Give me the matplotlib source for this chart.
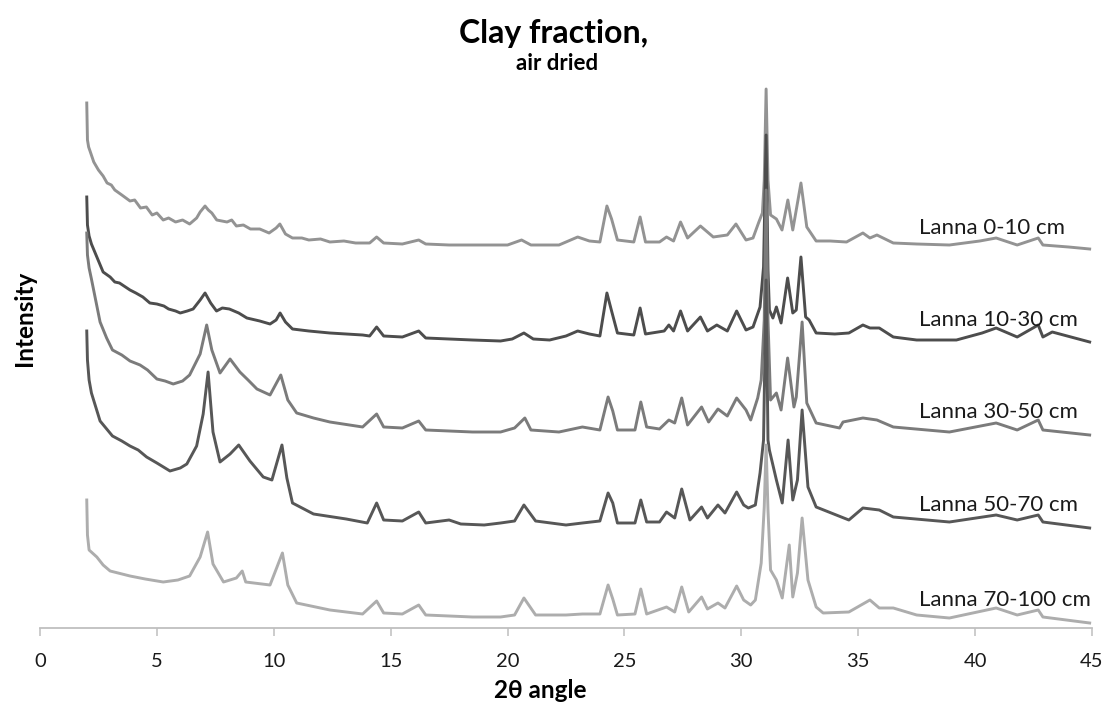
import matplotlib
matplotlib.use("Agg")
import matplotlib.pyplot as plt

plt.rcParams['font.family'] = ['Lato', 'DejaVu Sans']

# XRD patterns (2-theta, stacked intensity)
x_0_10 = [2.0, 2.03, 2.08, 2.14, 2.3, 2.5, 2.7, 2.87, 3.05, 3.2, 3.5, 3.85, 4.05, 4.3, 4.55, 4.8, 5.0, 5.27, 5.5,
          5.8, 6.1, 6.4, 6.7, 6.85, 7.06, 7.2, 7.35, 7.56, 8.0, 8.2, 8.4, 8.7, 9.0, 9.4, 9.8, 10.1, 10.26,
          10.5, 10.8, 11.2, 11.5, 12.0, 12.4, 13.0, 13.5, 14.1, 14.4, 14.7, 15.5, 16.2, 16.5, 17.5, 18.5,
          19.5, 20.0, 20.6, 21.0, 22.2, 23.0, 23.5, 23.95, 24.25, 24.45, 24.7, 25.4, 25.67, 25.9, 26.5,
          26.8, 27.1, 27.4, 27.7, 28.25, 28.8, 29.4, 29.77, 30.2, 30.5, 30.75, 30.9, 30.98, 31.06, 31.14,
          31.25, 31.5, 31.74, 31.99, 32.2, 32.55, 32.8, 33.2, 33.8, 34.5, 35.2, 35.5, 35.8, 36.5, 37.5,
          38.9, 40.2, 40.9, 41.8, 42.7, 42.9, 44.0, 44.9]
y_0_10 = [525, 488, 481, 477, 466, 458, 452, 445, 443, 438, 433, 427, 428, 420, 421, 413, 415, 408, 410,
          406, 408, 404, 410, 416, 422, 418, 415, 408, 406, 408, 402, 403, 399, 399, 395, 400, 404,
          394, 390, 390, 388, 389, 386, 387, 385, 385, 391, 385, 384, 388, 384, 383, 383,
          383, 383, 388, 383, 383, 391, 387, 386, 422, 409, 388, 386, 411, 386, 386,
          391, 387, 406, 390, 402, 391, 393, 404, 388, 390, 406, 415, 448, 539, 448,
          413, 409, 398, 428, 398, 445, 401, 387, 387, 386, 395, 390, 393, 385, 384,
          383, 387, 390, 383, 390, 383, 381, 379]

x_10_30 = [2.0, 2.03, 2.1, 2.2, 2.45, 2.7, 3.0, 3.2, 3.4, 3.85, 4.1, 4.4, 4.7, 5.0, 5.3, 5.5, 5.8, 6.0, 6.3,
           6.55, 6.85, 7.06, 7.3, 7.55, 7.8, 8.1, 8.5, 8.85, 9.4, 9.84, 10.1, 10.27, 10.5, 10.8, 11.5,
           12.4, 13.1, 13.8, 14.1, 14.4, 14.7, 15.5, 16.2, 16.5, 17.5, 18.5, 19.7, 20.2, 20.7, 21.1,
           21.8, 22.5, 23.0, 23.5, 23.95, 24.25, 24.45, 24.7, 25.4, 25.67, 25.9, 26.7, 26.9, 27.1, 27.4,
           27.7, 28.25, 28.55, 28.95, 29.4, 29.8, 30.2, 30.5, 30.8, 30.95, 31.06, 31.14, 31.2, 31.35,
           31.5, 31.7, 31.98, 32.2, 32.35, 32.55, 32.75, 32.9, 33.2, 34.0, 34.6, 35.2, 35.5, 35.9, 36.5,
           37.5, 39.2, 40.3, 40.9, 41.8, 42.7, 42.9, 43.3, 44.9]
y_10_30 = [431, 403, 392, 384, 370, 356, 351, 346, 345, 338, 335, 331, 325, 324, 322, 319, 317, 315, 317,
           319, 328, 335, 325, 317, 320, 319, 315, 310, 307, 304, 308, 315, 306, 299, 297,
           295, 294, 293, 292, 301, 292, 291, 297, 290, 289, 288, 287, 289, 295, 289,
           288, 292, 297, 294, 292, 335, 317, 295, 293, 320, 294, 297, 303, 297, 317,
           297, 311, 297, 303, 297, 317, 298, 301, 321, 361, 493, 358, 318, 310,
           321, 305, 350, 315, 318, 371, 311, 308, 295, 294, 295, 303, 300, 300, 291,
           288, 288, 295, 300, 291, 303, 291, 296, 286]

x_30_50 = [2.0, 2.03, 2.1, 2.2, 2.57, 2.85, 3.1, 3.5, 3.85, 4.28, 4.6, 5.0, 5.35, 5.7, 6.1, 6.4, 6.85, 7.13,
           7.35, 7.7, 8.13, 8.55, 8.9, 9.28, 9.84, 10.3, 10.6, 10.98, 11.7, 12.4, 13.8, 14.4, 14.7, 15.5,
           16.2, 16.5, 17.5, 18.5, 19.7, 20.3, 20.74, 21.0, 22.2, 23.2, 23.95, 24.3, 24.5, 24.7, 25.45,
           25.7, 25.95, 26.5, 26.9, 27.15, 27.45, 27.7, 28.3, 28.6, 29.0, 29.4, 29.8, 30.2, 30.4, 30.7,
           30.85, 30.98, 31.06, 31.14, 31.25, 31.5, 31.7, 31.98, 32.25, 32.35, 32.6, 32.8, 33.2, 34.2,
           34.35, 35.2, 35.8, 36.5, 38.9, 40.9, 41.8, 42.7, 42.9, 44.9]
y_30_50 = [395, 373, 360, 349, 306, 290, 278, 273, 267, 263, 258, 249, 247, 244, 247, 253, 274, 303,
           278, 255, 269, 256, 248, 239, 233, 253, 228, 215, 210, 206, 201, 214, 201, 200,
           207, 198, 197, 196, 196, 200, 210, 198, 196, 201, 198, 231, 217, 198, 198,
           226, 201, 199, 208, 205, 230, 203, 221, 206, 219, 212, 230, 218, 208, 230,
           248, 308, 438, 308, 228, 235, 218, 270, 221, 231, 306, 225, 205, 200,
           206, 210, 208, 201, 196, 205, 198, 208, 198, 193]

x_50_70 = [2.0, 2.03, 2.1, 2.2, 2.57, 3.1, 3.5, 3.85, 4.2, 4.56, 5.0, 5.56, 6.0, 6.28, 6.7, 6.98, 7.19, 7.4,
           7.7, 8.13, 8.5, 8.98, 9.55, 9.92, 10.35, 10.56, 10.8, 11.7, 13.1, 14.0, 14.4, 14.7, 15.5, 16.2,
           16.5, 17.5, 18.0, 19.0, 19.7, 20.3, 20.7, 21.2, 22.5, 23.2, 23.95, 24.3, 24.5, 24.7, 25.45,
           25.7, 25.95, 26.5, 26.8, 27.15, 27.45, 27.8, 28.3, 28.55, 29.0, 29.3, 29.8, 30.1, 30.3, 30.6,
           30.8, 30.95, 31.06, 31.14, 31.2, 31.5, 31.75, 32.0, 32.2, 32.4, 32.6, 32.85, 33.2, 34.6, 35.2,
           35.9, 36.5, 38.9, 40.9, 41.8, 42.7, 42.9, 44.9]
y_50_70 = [297, 268, 248, 235, 207, 192, 187, 182, 178, 171, 165, 157, 160, 164, 182, 214, 256, 196,
           166, 174, 183, 167, 151, 148, 183, 150, 125, 114, 109, 105, 125, 108, 107, 116,
           105, 108, 104, 103, 105, 107, 123, 107, 103, 105, 107, 135, 125, 105, 105,
           128, 106, 106, 116, 110, 139, 108, 121, 110, 123, 115, 136, 123, 120, 123,
           155, 188, 348, 188, 178, 148, 125, 188, 128, 148, 218, 141, 121, 108, 120,
           118, 111, 106, 113, 108, 113, 106, 100]

x_70_100 = [2.0, 2.03, 2.1, 2.43, 2.7, 3.0, 3.85, 4.5, 5.27, 5.9, 6.4, 6.85, 7.17, 7.4, 7.85, 8.4, 8.65,
            8.8, 9.84, 10.37, 10.6, 10.98, 12.4, 13.8, 14.4, 14.7, 15.5, 16.2, 16.5, 17.5, 18.5, 19.7,
            20.3, 20.7, 21.2, 22.5, 23.2, 23.95, 24.3, 24.5, 24.7, 25.45, 25.7, 25.95, 26.8, 27.15, 27.45,
            27.75, 28.3, 28.55, 29.0, 29.3, 29.8, 30.1, 30.4, 30.6, 30.85, 30.98, 31.06, 31.14, 31.25,
            31.5, 31.75, 32.05, 32.2, 32.4, 32.6, 32.85, 33.2, 33.5, 34.6, 35.5, 35.9, 36.5, 37.5, 38.9,
            40.9, 41.8, 42.7, 42.9, 44.9]
y_70_100 = [128, 93, 78, 71, 63, 57, 52, 49, 46, 48, 52, 71, 96, 64, 46, 50, 57,
            46, 43, 75, 43, 25, 18, 14, 27, 15, 14, 23, 13, 12, 11, 11,
            13, 30, 13, 13, 14, 14, 43, 29, 13, 14, 39, 14, 21, 16, 41,
            16, 31, 19, 25, 20, 42, 28, 23, 28, 65, 121, 183, 118, 58,
            48, 30, 83, 31, 55, 110, 48, 21, 15, 16, 28, 20, 20, 13, 10,
            20, 13, 18, 11, 5]

series = [
    ("Lanna 0-10 cm", x_0_10, y_0_10, "#939393"),
    ("Lanna 10-30 cm", x_10_30, y_10_30, "#4d4d4d"),
    ("Lanna 30-50 cm", x_30_50, y_30_50, "#7b7b7b"),
    ("Lanna 50-70 cm", x_50_70, y_50_70, "#575757"),
    ("Lanna 70-100 cm", x_70_100, y_70_100, "#adadad"),
]
label_y = [400, 308, 216, 123, 28]

fig = plt.figure(figsize=(11.07, 7.13), dpi=100)
ax = fig.add_axes([40 / 1107, 85 / 713, 1052 / 1107, 545 / 713])

for (name, xs, ys, col), ly in zip(series, label_y):
    ax.plot(xs, ys, color=col, lw=2.1, solid_joinstyle='round')
    ax.text(37.6, ly, name, fontsize=16, color='#1a1a1a', va='center', ha='left')

ax.set_xlim(0, 45)
ax.set_ylim(0, 545)
ax.set_xticks(range(0, 46, 5))
ax.set_yticks([])
for s in ['left', 'right', 'top']:
    ax.spines[s].set_visible(False)
ax.spines['bottom'].set_color('#bfbfbf')
ax.spines['bottom'].set_linewidth(1.3)
ax.tick_params(axis='x', direction='out', length=6, width=1.1, color='#bfbfbf',
               labelsize=14.5, pad=12, labelcolor='#1a1a1a')

fig.text(0.5, 1 - 33 / 713, "Clay fraction,", ha='center', va='center', fontsize=23, fontweight='bold')
fig.text(0.503, 1 - 64 / 713, "air dried", ha='center', va='center', fontsize=16, fontweight='bold')
fig.text(25 / 1107, 1 - 318 / 713, "Intensity", rotation=90, ha='center', va='center',
         fontsize=17.5, fontweight='bold')
fig.text(540 / 1107, 1 - 690 / 713, "2θ angle", ha='center', va='center', fontsize=17.5, fontweight='bold')

fig.savefig("out.png", dpi=100)
